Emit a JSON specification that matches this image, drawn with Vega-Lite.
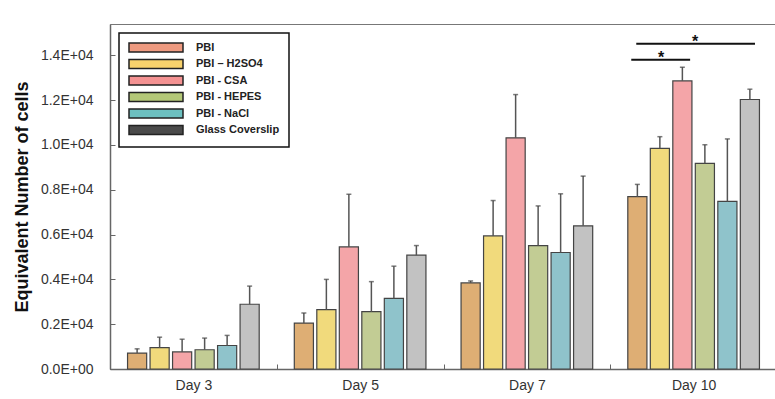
{
  "$schema": "https://vega.github.io/schema/vega-lite/v6.json",
  "width": 667,
  "height": 345,
  "autosize": {"type": "none"},
  "padding": {"left": 110, "top": 24, "right": 0, "bottom": 30},
  "config": {
    "font": "Liberation Sans",
    "view": {"stroke": "#777", "strokeWidth": 1},
    "axis": {"labelFont": "Liberation Sans", "titleFont": "Liberation Sans", "domainColor": "#666", "domainWidth": 1.5, "tickColor": "#666", "labelColor": "#333", "grid": false},
    "legend": {"strokeWidth": 1.5}
  },
  "datasets": {
    "bars": [
      {"day": "Day 3", "series": "PBI", "value": 710, "upper": 900},
      {"day": "Day 3", "series": "PBI – H2SO4", "value": 950, "upper": 1420},
      {"day": "Day 3", "series": "PBI - CSA", "value": 760, "upper": 1330},
      {"day": "Day 3", "series": "PBI - HEPES", "value": 860, "upper": 1380},
      {"day": "Day 3", "series": "PBI - NaCl", "value": 1050, "upper": 1500},
      {"day": "Day 3", "series": "Glass Coverslip", "value": 2890, "upper": 3700},
      {"day": "Day 5", "series": "PBI", "value": 2050, "upper": 2500},
      {"day": "Day 5", "series": "PBI – H2SO4", "value": 2650, "upper": 4000},
      {"day": "Day 5", "series": "PBI - CSA", "value": 5450, "upper": 7800},
      {"day": "Day 5", "series": "PBI - HEPES", "value": 2560, "upper": 3900},
      {"day": "Day 5", "series": "PBI - NaCl", "value": 3150, "upper": 4590},
      {"day": "Day 5", "series": "Glass Coverslip", "value": 5080, "upper": 5510},
      {"day": "Day 7", "series": "PBI", "value": 3840, "upper": 3930},
      {"day": "Day 7", "series": "PBI – H2SO4", "value": 5940, "upper": 7520},
      {"day": "Day 7", "series": "PBI - CSA", "value": 10320, "upper": 12250},
      {"day": "Day 7", "series": "PBI - HEPES", "value": 5510, "upper": 7280},
      {"day": "Day 7", "series": "PBI - NaCl", "value": 5200, "upper": 7820},
      {"day": "Day 7", "series": "Glass Coverslip", "value": 6390, "upper": 8610},
      {"day": "Day 10", "series": "PBI", "value": 7690, "upper": 8240},
      {"day": "Day 10", "series": "PBI – H2SO4", "value": 9850, "upper": 10370},
      {"day": "Day 10", "series": "PBI - CSA", "value": 12860, "upper": 13470},
      {"day": "Day 10", "series": "PBI - HEPES", "value": 9180, "upper": 10010},
      {"day": "Day 10", "series": "PBI - NaCl", "value": 7480, "upper": 10270},
      {"day": "Day 10", "series": "Glass Coverslip", "value": 12030, "upper": 12490}
    ],
    "sig": [
      {"x1": 3.156, "x2": 3.868, "y": 14515, "xs": 3.509},
      {"x1": 3.126, "x2": 3.479, "y": 13800, "xs": 3.305}
    ]
  },
  "layer": [
    {
      "data": {"name": "bars"},
      "encoding": {
        "x": {
          "field": "day", "type": "nominal",
          "sort": ["Day 3", "Day 5", "Day 7", "Day 10"],
          "scale": {"paddingInner": 0, "paddingOuter": 0},
          "axis": {"title": null, "tickBand": "extent", "labelFontSize": 14, "labelAngle": 0, "tickSize": -5, "labelPadding": 14}
        },
        "xOffset": {
          "field": "series", "type": "nominal",
          "sort": ["PBI", "PBI – H2SO4", "PBI - CSA", "PBI - HEPES", "PBI - NaCl", "Glass Coverslip"],
          "scale": {"paddingInner": 0.15, "paddingOuter": 0.78}
        },
        "y": {
          "field": "value", "type": "quantitative",
          "scale": {"domain": [0, 15400], "nice": false},
          "axis": {
            "title": "Equivalent Number of cells",
            "values": [0, 2000, 4000, 6000, 8000, 10000, 12000, 14000],
            "labelExpr": "datum.value == 0 ? '0.0E+00' : format(datum.value / 10000, '.1f') + 'E+04'",
            "labelFontSize": 14, "tickSize": -5, "labelPadding": 22,
            "titleFontSize": 18, "titleFontWeight": "bold", "titleColor": "#111", "titlePadding": 9
          }
        }
      },
      "layer": [
        {
          "mark": {"type": "bar", "stroke": "#444", "strokeWidth": 1.2},
          "encoding": {
            "fill": {
              "field": "series", "type": "nominal",
              "scale": {
                "domain": ["PBI", "PBI – H2SO4", "PBI - CSA", "PBI - HEPES", "PBI - NaCl", "Glass Coverslip"],
                "range": ["#DEAE74", "#F1DA7C", "#F4A5A8", "#C2CC94", "#8FC3CB", "#C2C2C2"]
              },
              "legend": null
            }
          }
        },
        {
          "mark": {"type": "rule", "color": "#555", "strokeWidth": 1.5},
          "encoding": {"y2": {"field": "upper"}}
        },
        {
          "mark": {"type": "tick", "color": "#444", "size": 5, "thickness": 1.5},
          "encoding": {"y": {"field": "upper", "type": "quantitative"}}
        },
        {
          "mark": {"type": "point", "filled": true, "opacity": 0},
          "encoding": {
            "fill": {
              "field": "series", "type": "nominal",
              "scale": {
                "domain": ["PBI", "PBI – H2SO4", "PBI - CSA", "PBI - HEPES", "PBI - NaCl", "Glass Coverslip"],
                "range": ["#EE9A80", "#F8D26C", "#F49292", "#B4C878", "#6CC0C0", "#4A4A4A"]
              },
              "legend": {
                "title": null, "orient": "top-left", "offset": 9, "padding": 9,
                "strokeColor": "#111", "fillColor": "white",
                "symbolType": "M-1,-1H11V1H-1Z", "symbolSize": 81,
                "symbolStrokeColor": "#222", "symbolStrokeWidth": 1.5, "symbolOpacity": 1,
                "labelFont": "Liberation Sans", "labelFontWeight": "bold", "labelFontSize": 11,
                "labelColor": "#222", "labelOffset": 57, "rowPadding": 1.5
              }
            }
          }
        }
      ],
      "resolve": {"scale": {"fill": "independent"}}
    },
    {
      "data": {"name": "sig"},
      "layer": [
        {
          "mark": {"type": "rule", "color": "#111", "strokeWidth": 2},
          "encoding": {
            "x": {"field": "x1", "type": "quantitative", "scale": {"domain": [0, 4], "nice": false, "zero": false}, "axis": null},
            "x2": {"field": "x2"},
            "y": {"field": "y", "type": "quantitative"}
          }
        },
        {
          "mark": {"type": "text", "text": "*", "fontSize": 16, "fontWeight": "bold", "color": "#111", "baseline": "alphabetic", "dy": 3},
          "encoding": {
            "x": {"field": "xs", "type": "quantitative", "scale": {"domain": [0, 4], "nice": false, "zero": false}, "axis": null},
            "y": {"field": "y", "type": "quantitative"}
          }
        }
      ]
    }
  ],
  "resolve": {"scale": {"x": "independent"}}
}
